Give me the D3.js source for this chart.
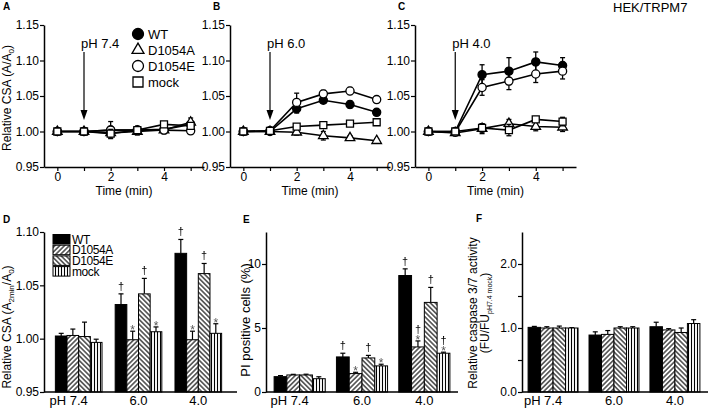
<!DOCTYPE html>
<html>
<head>
<meta charset="utf-8">
<script src="https://cdn.jsdelivr.net/npm/d3@7"></script>
<style>
body { margin: 0; background: #fff; }
svg { display: block; }
.marks { filter: grayscale(100%); }
</style>
</head>
<body>
<svg id="chart" width="709" height="411"></svg>
<script>
var FONT = '"Liberation Sans", Arial, Helvetica, sans-serif';

// ---- data
var times = [0, 1, 2, 3, 4, 5];
var strains = ['WT', 'D1054A', 'D1054E', 'mock'];
var phGroups = ['7.4', '6.0', '4.0'];
var csaTicks = [0.95, 1.00, 1.05, 1.10, 1.15];

// relative CSA time courses, one row per strain
var csaPh74 = [
    [1.000, 1.000, 1.002, 1.002, 1.003, 1.010],
    [1.000, 1.000, 0.998, 1.000, 1.002, 1.013],
    [1.000, 1.000, 1.002, 1.002, 1.002, 1.001],
    [1.000, 1.000, 0.997, 1.002, 1.010, 1.008]
];
var csaPh74Err = [
    [0, 0.003, 0.004, 0.004, 0.004, 0.004],
    [0, 0.004, 0.005, 0.005, 0.005, 0.006],
    [0, 0.005, 0.012, 0.004, 0.005, 0.004],
    [0, 0.003, 0.006, 0.005, 0.003, 0.004]
];
var csaPh60 = [
    [1.000, 1.000, 1.032, 1.044, 1.038, 1.027],
    [1.000, 1.000, 0.999, 0.994, 0.991, 0.987],
    [1.000, 1.001, 1.041, 1.053, 1.057, 1.045],
    [1.000, 1.001, 1.007, 1.009, 1.011, 1.013]
];
var csaPh60Err = [
    [0, 0.003, 0.006, 0.004, 0.005, 0.004],
    [0, 0.003, 0.004, 0.006, 0.003, 0.003],
    [0, 0.004, 0.013, 0.005, 0.005, 0.004],
    [0, 0.005, 0.003, 0.003, 0.003, 0.002]
];
var csaPh40 = [
    [1.000, 1.000, 1.080, 1.085, 1.098, 1.093],
    [1.000, 0.998, 1.004, 1.011, 1.007, 1.006],
    [1.000, 0.999, 1.062, 1.071, 1.081, 1.085],
    [1.000, 1.000, 1.005, 1.002, 1.017, 1.014]
];
var csaPh40Err = [
    [0, 0.004, 0.014, 0.019, 0.014, 0.011],
    [0, 0.004, 0.007, 0.006, 0.006, 0.006],
    [0, 0.004, 0.011, 0.012, 0.012, 0.011],
    [0, 0.003, 0.006, 0.008, 0.004, 0.006]
];

// bar panels, rows = strains, columns = pH 7.4 / 6.0 / 4.0
var csa2min = [
    [1.0025, 1.032, 1.080],
    [1.003, 0.999, 0.999],
    [1.002, 1.042, 1.061],
    [0.9965, 1.0065, 1.005]
];
var csa2minErr = [
    [0.0025, 0.010, 0.013],
    [0.006, 0.008, 0.008],
    [0.0135, 0.0145, 0.0095],
    [0.003, 0.0045, 0.009]
];
var csa2minMarks = [
    ['', '†', '†'],
    ['', '*', '*'],
    ['', '†', '†'],
    ['', '*', '*']
];
var piCells = [
    [1.20, 2.74, 9.10],
    [1.33, 1.44, 3.52],
    [1.33, 2.66, 7.00],
    [1.04, 2.04, 3.03]
];
var piCellsErr = [
    [0.08, 0.29, 0.52],
    [0.05, 0.10, 0.47],
    [0.06, 0.20, 1.17],
    [0.15, 0.13, 0.08]
];
var piCellsMarks = [
    ['', '†', '†'],
    ['', '*', '†*'],
    ['', '†', '†'],
    ['', '*', '†*']
];
var caspase = [
    [1.01, 0.89, 1.02],
    [1.00, 0.90, 0.97],
    [1.00, 1.00, 0.93],
    [1.00, 1.00, 1.07]
];
var caspaseErr = [
    [0.015, 0.05, 0.07],
    [0.02, 0.06, 0.02],
    [0.03, 0.02, 0.07],
    [0.005, 0.02, 0.06]
];

var svg = d3.select('#chart').attr('font-family', FONT);

// ---- hatch patterns for the bars
var defs = svg.append('defs');
function hatch(id, w, angle) {
    var p = defs.append('pattern')
        .attr('id', id)
        .attr('patternUnits', 'userSpaceOnUse')
        .attr('width', w).attr('height', 10)
        .attr('patternTransform', 'rotate(' + angle + ')');
    p.append('rect').attr('width', w).attr('height', 10).attr('fill', '#fff');
    p.append('line').attr('x1', w / 2).attr('x2', w / 2).attr('y1', 0).attr('y2', 10)
        .attr('stroke', '#000').attr('stroke-width', 1.1);
}
hatch('hA', 3.4, 45);
hatch('hE', 3.4, -45);
hatch('hM', 3, 0);
var barFill = ['#000', 'url(#hA)', 'url(#hE)', 'url(#hM)'];

var symTypes = [d3.symbolCircle, d3.symbolTriangle, d3.symbolCircle, d3.symbolSquare],
    symFill = ['#000', '#fff', '#fff', '#fff'];
function marker(i, big) {
    var sizes = big ? [95, 62, 95, 100] : [52, 40, 52, 49];
    return d3.symbol().type(symTypes[i]).size(sizes[i])();
}

function styleAxis(sel, fs) {
    sel.attr('font-family', FONT).attr('font-size', fs);
    sel.selectAll('path.domain').attr('stroke', '#000').attr('stroke-width', 1.5);
    sel.selectAll('.tick line').attr('stroke', '#000').attr('stroke-width', 1.2);
    sel.selectAll('.tick text').attr('fill', '#000');
}

function panelLetter(t, x, y) {
    svg.append('text').attr('x', x).attr('y', y)
        .attr('font-size', 10).attr('font-weight', 'bold').text(t);
}

// ================ time course panels A-C
var TOP = 25, BOT = 167;
function timePanel(left, right, vals, errs, phText) {
    var x = d3.scaleLinear().domain([-0.5, 5.5]).range([left, right]),
        y = d3.scaleLinear().domain([0.95, 1.15]).range([BOT, TOP]),
        g = svg.append('g');

    g.append('g').attr('transform', 'translate(0,' + BOT + ')')
        .call(d3.axisBottom(x).tickValues(times).tickSize(4).tickSizeOuter(0).tickPadding(1)
            .tickFormat(function(d) { return d % 2 === 0 ? d : ''; }))
        .call(styleAxis, 12);
    g.append('g').attr('transform', 'translate(' + left + ',0)')
        .call(d3.axisLeft(y).tickValues(csaTicks).tickSize(4).tickSizeOuter(0).tickPadding(1)
            .tickFormat(d3.format('.2f')))
        .call(styleAxis, 12);

    g.append('text').attr('x', x(2.5)).attr('y', 195)
        .attr('text-anchor', 'middle').attr('font-size', 12).text('Time (min)');

    var line = d3.line().x(function(d, i) { return x(times[i]); }).y(function(d) { return y(d); });

    vals.forEach(function(row, si) {
        var s = g.append('g');
        s.append('path').attr('d', line(row))
            .attr('fill', 'none').attr('stroke', '#000').attr('stroke-width', 1.6);
        var eb = s.selectAll('g.err').data(row.map(function(v, i) { return {v: v, e: errs[si][i], t: times[i]}; })
                .filter(function(d) { return d.e > 0; }))
            .enter().append('g').attr('class', 'err');
        eb.append('line')
            .attr('x1', function(d) { return x(d.t); }).attr('x2', function(d) { return x(d.t); })
            .attr('y1', function(d) { return y(d.v - d.e); }).attr('y2', function(d) { return y(d.v + d.e); });
        eb.append('line')
            .attr('x1', function(d) { return x(d.t) - 2.5; }).attr('x2', function(d) { return x(d.t) + 2.5; })
            .attr('y1', function(d) { return y(d.v + d.e); }).attr('y2', function(d) { return y(d.v + d.e); });
        eb.append('line')
            .attr('x1', function(d) { return x(d.t) - 2.5; }).attr('x2', function(d) { return x(d.t) + 2.5; })
            .attr('y1', function(d) { return y(d.v - d.e); }).attr('y2', function(d) { return y(d.v - d.e); });
        eb.selectAll('line').attr('stroke', '#000').attr('stroke-width', 1.3);

        s.selectAll('path.pt').data(row).enter().append('path').attr('class', 'pt')
            .attr('d', marker(si, false))
            .attr('transform', function(d, i) { return 'translate(' + x(times[i]) + ',' + y(d) + ')'; })
            .attr('fill', symFill[si]).attr('stroke', '#000').attr('stroke-width', 1.3);
    });

    // treatment arrow at 1 min
    var ax = x(1);
    g.append('line').attr('x1', ax).attr('x2', ax).attr('y1', 52).attr('y2', 112)
        .attr('stroke', '#000').attr('stroke-width', 1.2);
    g.append('path').attr('d', 'M' + (ax - 3.5) + ',110L' + (ax + 3.5) + ',110L' + ax + ',120Z').attr('fill', '#000');
    g.append('text').attr('x', ax - 3).attr('y', 48).attr('font-size', 13).text(phText);
    return {x: x, y: y, g: g};
}

timePanel(44, 204, csaPh74, csaPh74Err, 'pH 7.4');
timePanel(230, 390, csaPh60, csaPh60Err, 'pH 6.0');
timePanel(415, 576, csaPh40, csaPh40Err, 'pH 4.0');

panelLetter('A', 3, 10);
panelLetter('B', 213, 10);
panelLetter('C', 398, 10);

// legend of panel A
var legA = svg.append('g');
strains.forEach(function(s, i) {
    var ly = 34 + i * 16;
    legA.append('path').attr('d', marker(i, true)).attr('transform', 'translate(138,' + ly + ')')
        .attr('fill', symFill[i]).attr('stroke', '#000').attr('stroke-width', 1.3);
    legA.append('text').attr('x', 148).attr('y', ly).attr('dy', '0.36em').attr('font-size', 13).text(s);
});

// y title of A
var tA = svg.append('text').attr('transform', 'translate(11,98) rotate(-90)')
    .attr('text-anchor', 'middle').attr('font-size', 12);
tA.append('tspan').text('Relative CSA (A/A');
tA.append('tspan').attr('font-size', 8).attr('dy', 3).text('0');
tA.append('tspan').attr('dy', -3).text(')');

svg.append('text').attr('x', 613).attr('y', 12).attr('font-size', 13).text('HEK/TRPM7');

// ================ bar panels D-F
var BTOP = 232, BBOT = 392;
function barPanel(cfg) {
    var x0 = d3.scaleBand().domain(phGroups).range([cfg.left, cfg.bandRight])
            .paddingInner(cfg.pi).paddingOuter(cfg.po),
        x1 = d3.scaleBand().domain(strains).range([0, x0.bandwidth()]),
        y = d3.scaleLinear().domain(cfg.domain).range([BBOT, BTOP]),
        g = svg.append('g');

    var cells = [];
    strains.forEach(function(s, si) {
        phGroups.forEach(function(p, pi) {
            cells.push({s: s, si: si, p: p, v: cfg.vals[si][pi], e: cfg.errs[si][pi],
                mark: cfg.marks ? cfg.marks[si][pi] : ''});
        });
    });
    var cx = function(d) { return x0(d.p) + x1(d.s) + x1.bandwidth() / 2; };

    var eb = g.selectAll('g.err').data(cells).enter().append('g').attr('class', 'err');
    eb.append('line').attr('x1', cx).attr('x2', cx)
        .attr('y1', function(d) { return y(d.v); }).attr('y2', function(d) { return y(d.v + d.e); });
    eb.append('line')
        .attr('x1', function(d) { return cx(d) - 2.5; }).attr('x2', function(d) { return cx(d) + 2.5; })
        .attr('y1', function(d) { return y(d.v + d.e); }).attr('y2', function(d) { return y(d.v + d.e); });
    eb.selectAll('line').attr('stroke', '#000').attr('stroke-width', 1.2);

    g.selectAll('rect.bar').data(cells).enter().append('rect').attr('class', 'bar')
        .attr('x', function(d) { return x0(d.p) + x1(d.s); })
        .attr('y', function(d) { return y(d.v); })
        .attr('width', x1.bandwidth())
        .attr('height', function(d) { return y(cfg.domain[0]) - y(d.v); })
        .attr('fill', function(d) { return barFill[d.si]; })
        .attr('stroke', '#000').attr('stroke-width', 1);

    // significance marks
    var mg = g.append('g').attr('class', 'marks').attr('fill', '#000');
    cells.filter(function(d) { return d.mark; }).forEach(function(d) {
        var top = y(d.v + d.e);
        if (d.mark.indexOf('*') >= 0) {
            mg.append('text').attr('x', cx(d)).attr('y', top + 3).attr('text-anchor', 'middle')
                .attr('font-size', 12).attr('fill', '#555').text('*');
            if (d.mark.indexOf('†') >= 0)
                mg.append('text').attr('x', cx(d)).attr('y', top - 8).attr('text-anchor', 'middle')
                    .attr('font-size', 11).text('†');
        } else {
            mg.append('text').attr('x', cx(d)).attr('y', top - 4).attr('text-anchor', 'middle')
                .attr('font-size', 11).text('†');
        }
    });

    // axes
    var xa = g.append('g').attr('transform', 'translate(0,' + BBOT + ')')
        .call(d3.axisBottom(x0).tickSize(0).tickPadding(4))
        .call(styleAxis, 13);
    xa.select('path.domain').remove();
    g.append('line').attr('x1', cfg.left).attr('x2', cfg.axisRight).attr('y1', BBOT).attr('y2', BBOT)
        .attr('stroke', '#000').attr('stroke-width', 1.5);
    g.append('text').attr('x', x0('7.4') + x0.bandwidth() / 2 - 12.5).attr('y', BBOT + 4)
        .attr('dy', '0.71em').attr('text-anchor', 'end').attr('font-size', 13).text('pH');

    g.append('g').attr('transform', 'translate(' + cfg.left + ',0)')
        .call(d3.axisLeft(y).tickValues(cfg.ticks).tickSize(4).tickSizeOuter(0).tickPadding(1)
            .tickFormat(cfg.fmt))
        .call(styleAxis, 12);
    return {x0: x0, y: y, g: g};
}

barPanel({left: 44, bandRight: 233, axisRight: 237, pi: 0.22, po: 0.19,
    domain: [0.95, 1.10], ticks: [0.95, 1.00, 1.05, 1.10], fmt: d3.format('.2f'),
    vals: csa2min, errs: csa2minErr, marks: csa2minMarks});
barPanel({left: 266, bandRight: 458, axisRight: 458, pi: 0.18, po: 0.13,
    domain: [0, 12.5], ticks: [0, 5, 10], fmt: d3.format('d'),
    vals: piCells, errs: piCellsErr, marks: piCellsMarks});
barPanel({left: 522, bandRight: 706, axisRight: 708, pi: 0.18, po: 0.1,
    domain: [0, 2.5], ticks: [0, 0.5, 1, 1.5, 2],
    fmt: function(d) { return d % 1 === 0 ? d3.format('.1f')(d) : ''; },
    vals: caspase, errs: caspaseErr});

panelLetter('D', 3, 223);
panelLetter('E', 243, 223);
panelLetter('F', 476, 222);

// legend of panel D
var legD = svg.append('g');
strains.forEach(function(s, i) {
    var ly = 234.5 + i * 10.7;
    legD.append('rect').attr('x', 53).attr('y', ly).attr('width', 17).attr('height', 9.5)
        .attr('fill', barFill[i]).attr('stroke', '#000').attr('stroke-width', 1);
    legD.append('text').attr('x', 72).attr('y', ly + 4.8).attr('dy', '0.36em')
        .attr('font-size', 12).attr('letter-spacing', -0.4).text(s);
});

// y titles of D-F
var tD = svg.append('text').attr('transform', 'translate(11,327) rotate(-90)')
    .attr('text-anchor', 'middle').attr('font-size', 12);
tD.append('tspan').text('Relative CSA (A');
tD.append('tspan').attr('font-size', 8).attr('dy', 3).text('2min');
tD.append('tspan').attr('dy', -3).text('/A');
tD.append('tspan').attr('font-size', 8).attr('dy', 3).text('0');
tD.append('tspan').attr('dy', -3).text(')');

svg.append('text').attr('transform', 'translate(250,320) rotate(-90)')
    .attr('text-anchor', 'middle').attr('font-size', 13).text('PI positive cells (%)');

svg.append('text').attr('transform', 'translate(477,313) rotate(-90)')
    .attr('text-anchor', 'middle').attr('font-size', 12).text('Relative caspase 3/7 activity');
var tF = svg.append('text').attr('transform', 'translate(489,313) rotate(-90)')
    .attr('text-anchor', 'middle').attr('font-size', 12);
tF.append('tspan').text('(FU/FU');
tF.append('tspan').attr('font-size', 7).attr('dy', 3).text('pH7.4 mock');
tF.append('tspan').attr('dy', -3).text(')');
</script>
</body>
</html>
